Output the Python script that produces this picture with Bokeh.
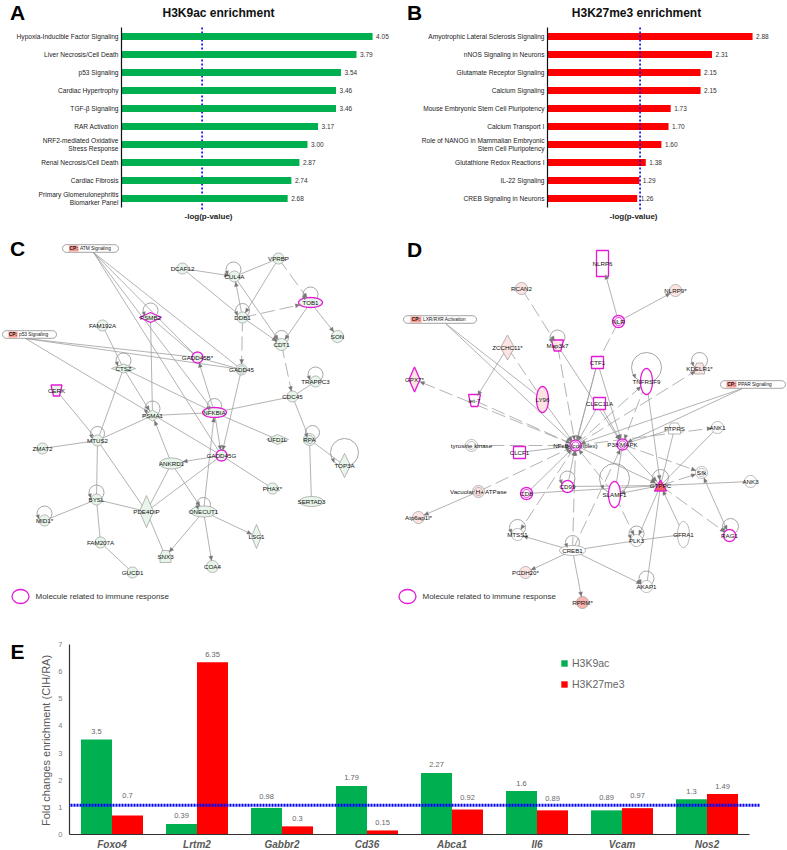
import math
from bokeh.plotting import figure
from bokeh.layouts import column, row
from bokeh.models import Range1d, FixedTicker, Legend, LegendItem, LinearAxis
from bokeh.core.properties import value
from bokeh.embed import file_html
from bokeh.resources import INLINE

FONT = "Liberation Sans"
GREEN = "#00b050"
RED = "#ff0000"
BLUE = "#0000ff"
MAG = "#e31bd6"

# Panel A
a_terms = ["Hypoxia-Inducible Factor Signaling", "Liver Necrosis/Cell Death", "p53 Signaling",
           "Cardiac Hypertrophy", "TGF-β Signaling", "RAR Activation",
           "NRF2-mediated Oxidative\nStress Response", "Renal Necrosis/Cell Death",
           "Cardiac Fibrosis", "Primary Glomerulonephritis\nBiomarker Panel"]
a_values = [4.05, 3.79, 3.54, 3.46, 3.46, 3.17, 3.00, 2.87, 2.74, 2.68]
a_threshold = 1.3
# Panel B
b_terms = ["Amyotrophic Lateral Sclerosis Signaling", "nNOS Signaling in Neurons",
           "Glutamate Receptor Signaling", "Calcium Signaling",
           "Mouse Embryonic Stem Cell Pluripotency", "Calcium Transport I",
           "Role of NANOG in Mammalian Embryonic\nStem Cell Pluripotency",
           "Glutathione Redox Reactions I", "IL-22 Signaling", "CREB Signaling in Neurons"]
b_values = [2.88, 2.31, 2.15, 2.15, 1.73, 1.70, 1.60, 1.38, 1.29, 1.26]
b_threshold = 1.3
# Panel E
e_genes = ["Foxo4", "Lrtm2", "Gabbr2", "Cd36", "Abca1", "Il6", "Vcam", "Nos2"]
e_h3k9ac = [3.5, 0.39, 0.98, 1.79, 2.27, 1.6, 0.89, 1.3]
e_h3k27me3 = [0.7, 6.35, 0.3, 0.15, 0.92, 0.89, 0.97, 1.49]
e_threshold = 1.08
e_gap_green = [8, 8, 11, 8, 8, 8, 13, 8]
e_gap_red = [20, 8, 8, 8, 12, 12, 13, 8]

# Networks: name, x, y, w, h, shape, fill kind
# shape: c circle/ellipse, d diamond, s square, t triangle, v inverted trapezoid, p pentagon
# style: n plain, i immune, 2 double ring, I double immune
c_nodes = [
    ("DCAF12", 182, 268, 11, 11, "c", "n"), ("PSMB2", 150, 317, 22, 10, "d", "i"),
    ("FAM192A", 102, 325, 11, 11, "c", "n"), ("CTSZ", 123, 368, 24, 9, "d", "n"),
    ("CERK", 56, 390, 11, 11, "v", "i"), ("PSMA1", 152, 415, 18, 11, "d", "n"),
    ("CUL4A", 234, 276, 11, 11, "c", "n"), ("VPRBP", 278, 258, 11, 11, "c", "n"),
    ("TOB1", 310, 302, 24, 10, "c", "i"), ("DDB1", 242, 317, 11, 11, "c", "n"),
    ("SON", 337, 336, 12, 12, "c", "n"), ("CDT1", 281, 344, 12, 12, "c", "n"),
    ("GADD45B*", 197, 357, 11, 11, "c", "i"), ("GADD45", 241, 369, 11, 11, "c", "2"),
    ("TRAPPC3", 315, 381, 11, 11, "c", "n"), ("CDC45", 292, 396, 11, 11, "c", "n"),
    ("NFKBIA", 214, 412, 24, 10, "c", "i"), ("MTUS2", 97, 440, 11, 11, "c", "n"),
    ("ZMAT2", 42, 448, 11, 11, "c", "n"), ("BYSL", 96, 499, 11, 11, "c", "n"),
    ("MID1*", 44, 520, 11, 11, "c", "n"), ("FAM207A", 100, 542, 11, 11, "c", "n"),
    ("GUCD1", 132, 572, 11, 11, "c", "n"), ("PDE4DIP", 146, 511, 14, 32, "d", "n"),
    ("SNX3", 165, 556, 11, 12, "p", "n"), ("ANKRD1", 171, 463, 24, 11, "c", "n"),
    ("ONECUT1", 203, 511, 26, 11, "c", "n"), ("GADD45G", 221, 455, 11, 11, "c", "i"),
    ("UFD1L", 277, 439, 22, 10, "d", "n"), ("RPA", 309, 439, 12, 12, "c", "2"),
    ("TOP3A", 344, 465, 12, 24, "d", "n"), ("PHAX*", 272, 488, 11, 11, "c", "n"),
    ("SERTAD3", 311, 501, 24, 10, "c", "n"), ("LSG1", 256, 536, 10, 24, "d", "n"),
    ("COA4", 212, 566, 12, 12, "c", "n"),
]
c_loops = [("PSMB2", 150, 310, 7.5), ("CTSZ", 123, 360, 7.5), ("PSMA1", 152, 408, 7.5),
           ("CUL4A", 233, 269, 7.5), ("TOB1", 310, 294, 7.5), ("DDB1", 242, 310, 7),
           ("CDT1", 281, 337, 7), ("TRAPPC3", 315, 374, 7.5), ("NFKBIA", 214, 405, 7),
           ("MTUS2", 97, 433, 7), ("BYSL", 96, 492, 7.5), ("MID1*", 44, 513, 7.5),
           ("ONECUT1", 203, 504, 7), ("RPA", 312, 432, 7), ("TOP3A", 344, 452, 14)]
c_anchors = {"ATM": (93, 252), "p53": (25, 338)}
c_edges = [
    ("ATM", "GADD45", "s"), ("ATM", "GADD45B*", "s"), ("ATM", "GADD45G", "s"), ("ATM", "NFKBIA", "s"),
    ("p53", "GADD45", "s"), ("p53", "GADD45B*", "s"), ("p53", "GADD45G", "s"),
    ("FAM192A", "CTSZ", "s"), ("CTSZ", "PSMA1", "s>"), ("CTSZ", "NFKBIA", "s"), ("CTSZ", "MTUS2", "s"),
    ("PSMB2", "PSMA1", "s"), ("PSMB2", "GADD45B*", "s"), ("PSMA1", "MTUS2", "s"), ("PSMA1", "NFKBIA", "s"),
    ("GADD45", "GADD45B*", "s"), ("GADD45", "GADD45G", "s>"), ("CERK", "MTUS2", "s"),
    ("MTUS2", "ZMAT2", "s"), ("MTUS2", "BYSL", "s"), ("MTUS2", "PDE4DIP", "s"),
    ("BYSL", "MID1*", "s"), ("BYSL", "FAM207A", "s"), ("BYSL", "PDE4DIP", "s"), ("FAM207A", "GUCD1", "s"),
    ("PDE4DIP", "ANKRD1", "s"), ("PDE4DIP", "SNX3", "s"), ("PDE4DIP", "GADD45G", "s"),
    ("ONECUT1", "SNX3", "s>"), ("ONECUT1", "LSG1", "s>"), ("ONECUT1", "COA4", "s>"),
    ("ONECUT1", "NFKBIA", "s>"), ("ANKRD1", "PSMA1", "s>"), ("ANKRD1", "ONECUT1", "s>"),
    ("GADD45G", "ANKRD1", "s>"), ("NFKBIA", "GADD45B*", "s>"), ("NFKBIA", "UFD1L", "s"),
    ("NFKBIA", "CDC45", "s"), ("NFKBIA", "GADD45G", "s>"), ("PHAX*", "GADD45G", "s"),
    ("CDC45", "RPA", "s"), ("RPA", "SERTAD3", "s"), ("RPA", "TOP3A", "s"), ("TRAPPC3", "CDC45", "s"),
    ("CDT1", "CDC45", "d>"), ("DDB1", "CDT1", "s>"), ("DDB1", "TOB1", "d>"), ("DDB1", "GADD45", "d>"),
    ("DDB1", "CUL4A", "s>"), ("CUL4A", "CDT1", "s>"), ("CUL4A", "VPRBP", "s"), ("VPRBP", "DDB1", "s>"),
    ("VPRBP", "TOB1", "d>"), ("TOB1", "CDT1", "s>"), ("TOB1", "SON", "s>"),
    ("DCAF12", "CUL4A", "s>"), ("DCAF12", "DDB1", "s"),
]
d_nodes = [
    ("RCAN2", 521, 288, 12, 12, "c", "n", "p"), ("ZCCHC11*", 507, 347, 14, 25, "d", "n", "p"),
    ("Map3k7", 557, 345, 12, 11, "v", "i", "p"), ("GPX7*", 414, 379, 11, 25, "d", "i", "p"),
    ("let-7", 474, 400, 12, 12, "v", "i", "w"), ("LY96", 542, 399, 12, 26, "c", "i", "p"),
    ("NLRP6", 602, 263, 12, 26, "s", "i", "w"), ("NLRP9*", 675, 290, 12, 12, "c", "n", "p"),
    ("NLR", 618, 321, 12, 12, "c", "I", "w"), ("CTF1", 597, 362, 12, 12, "s", "i", "w"),
    ("CLEC11A", 599, 403, 12, 12, "s", "i", "w"), ("TNFRSF9", 646, 381, 12, 26, "c", "i", "w"),
    ("KDELR1*", 699, 368, 10, 11, "p", "n", "p"), ("tyrosine kinase", 471, 445, 12, 12, "c", "2", "w"),
    ("CLCF1", 519, 452, 12, 12, "s", "i", "w"), ("NFκB (complex)", 575, 445, 11, 11, "c", "I", "w"),
    ("Vacuolar H+ ATPase", 478, 491, 12, 12, "c", "2", "p"), ("CD8", 526, 493, 12, 12, "c", "I", "w"),
    ("CD99", 567, 486, 12, 12, "c", "i", "w"), ("Atp6ap1l*", 418, 517, 12, 12, "c", "n", "p"),
    ("MTSS1", 517, 534, 12, 12, "c", "n", "w"), ("CREB1", 572, 550, 26, 10, "c", "n", "w"),
    ("PCDH20*", 525, 572, 12, 12, "c", "n", "p"), ("RPRM*", 582, 602, 12, 12, "c", "n", "r"),
    ("P38 MAPK", 622, 444, 11, 11, "c", "I", "w"), ("PTPRS", 674, 428, 12, 11, "p", "n", "w"),
    ("ANK1", 717, 427, 12, 12, "c", "n", "w"), ("Sfk", 701, 472, 12, 12, "c", "2", "w"),
    ("ANK3", 750, 481, 12, 12, "c", "n", "w"), ("GTPRC", 660, 485, 12, 11, "t", "i", "R"),
    ("SLAMF1", 614, 494, 12, 26, "c", "i", "w"), ("PLK3", 636, 540, 12, 12, "c", "n", "w"),
    ("GFRA1", 683, 534, 12, 26, "c", "n", "w"), ("RAG1", 729, 535, 12, 12, "c", "i", "w"),
    ("AKAP1", 646, 586, 12, 12, "c", "n", "w"),
]
d_loops = [("Map3k7", 557, 337, 7.5), ("TNFRSF9", 646, 367, 15), ("KDELR1*", 699, 360, 8),
           ("CD99", 567, 478, 7.5), ("MTSS1", 517, 527, 8), ("CREB1", 572, 542, 7),
           ("GTPRC", 660, 477, 8), ("SLAMF1", 614, 478, 15), ("PLK3", 636, 533, 7.5),
           ("RAG1", 730, 526, 8), ("AKAP1", 646, 578, 7.5)]
d_anchors = {"LXR": (445, 323), "PPAR": (742, 388)}
HUB = "NFκB (complex)"
d_edges = [
    ("RCAN2", "Map3k7", "d>"), ("Map3k7", HUB, "d>"), ("Map3k7", "P38 MAPK", "s>"),
    ("ZCCHC11*", "let-7", "s>"), ("ZCCHC11*", "LY96", "d"), ("LXR", HUB, "s>"), ("LXR", "LY96", "s"),
    (HUB, "GPX7*", "d>"), ("let-7", HUB, "d>"), ("LY96", HUB, "s>"),
    ("NLR", "NLRP6", "s>"), ("NLR", "NLRP9*", "s>"), ("NLR", "CTF1", "d"),
    ("CTF1", HUB, "s>"), ("CTF1", "P38 MAPK", "s>"), ("CTF1", HUB, "s"),
    ("CLEC11A", HUB, "s>"), ("CLEC11A", "P38 MAPK", "s>"), (HUB, "TNFRSF9", "d>"),
    ("TNFRSF9", "P38 MAPK", "d>"), ("TNFRSF9", "GTPRC", "s>"), (HUB, "KDELR1*", "d>"),
    ("PPAR", HUB, "s>"), ("PPAR", "P38 MAPK", "s>"), ("tyrosine kinase", HUB, "d"),
    ("CLCF1", HUB, "s>"), ("Vacuolar H+ ATPase", HUB, "d>"), ("Vacuolar H+ ATPase", "Atp6ap1l*", "s>"),
    ("CD8", HUB, "s>"), ("CD8", "GTPRC", "s"), ("CD99", HUB, "s>"), ("CD99", "GTPRC", "s"),
    (HUB, "MTSS1", "d>"), ("CREB1", "MTSS1", "s>"), ("CREB1", "PCDH20*", "s>"), ("CREB1", "RPRM*", "s>"),
    ("CREB1", HUB, "d>"), ("CREB1", "P38 MAPK", "d>"), ("CREB1", "PLK3", "s"), ("CREB1", "AKAP1", "s>"),
    ("P38 MAPK", "GTPRC", "s>"), ("P38 MAPK", "PTPRS", "s"), ("P38 MAPK", "Sfk", "d>"), (HUB, "ANK1", "d>"),
    ("PTPRS", "GTPRC", "s"), ("ANK1", "GTPRC", "s"), ("GTPRC", "Sfk", "d>"), ("GTPRC", "ANK3", "s"),
    ("GTPRC", "RAG1", "d>"), ("GTPRC", "AKAP1", "s"), ("GFRA1", "GTPRC", "s>"), ("GFRA1", "PLK3", "s"),
    ("Sfk", "RAG1", "s<>"), ("SLAMF1", "PLK3", "d>"), ("GTPRC", "SLAMF1", "s>"), ("SLAMF1", HUB, "d>"),
    ("SLAMF1", "P38 MAPK", "s"), (HUB, "GTPRC", "s>"), ("GTPRC", "PLK3", "s>"),
]


def bare_fig(w, h, x_range, y_range):
    """A figure whose frame fills it; axes, if any, are pinned inside the frame."""
    p = figure(width=w, height=h, x_range=x_range, y_range=y_range,
               toolbar_location=None, output_backend="svg", min_border=0,
               x_axis_location=None, y_axis_location=None)
    p.grid.visible = False
    p.outline_line_color = None
    return p


def outline(x, y, w, h, shape):
    a, b = w / 2, h / 2
    if shape == "d":
        return [x, x + a, x, x - a], [y - b, y, y + b, y]
    if shape == "s":
        return [x - a, x + a, x + a, x - a], [y - b, y - b, y + b, y + b]
    if shape == "t":
        return [x, x + a, x - a], [y - b, y + b, y + b]
    if shape == "v":
        return [x - a, x + a, x + a * .55, x - a * .55], [y - b, y - b, y + b, y + b]
    if shape == "p":
        return [x - a * .6, x + a * .6, x + a, x + a, x - a, x - a], [y - b, y - b, y, y + b, y + b, y]
    n = 40
    return ([x + a * math.cos(2 * math.pi * i / n) for i in range(n)],
            [y + b * math.sin(2 * math.pi * i / n) for i in range(n)])


def pill(p, x0, x1, y, box0, box1, name):
    h = 3.8
    n = 8
    xs, ys = [], []
    for i in range(n + 1):
        t = -math.pi / 2 + math.pi * i / n
        xs.append(x1 - h + h * math.cos(t)); ys.append(y + h * math.sin(t))
    for i in range(n + 1):
        t = math.pi / 2 + math.pi * i / n
        xs.append(x0 + h + h * math.cos(t)); ys.append(y + h * math.sin(t))
    p.patch(xs, ys, fill_color="white", line_color="#8c8c8c", line_width=0.8)
    p.quad(left=[box0], right=[box1], top=[y - 3], bottom=[y + 3], fill_color="#f99a94", line_color=None)
    p.text([(box0 + box1) / 2], [y], text=["CP:"], text_font=value(FONT), text_font_size="4.8px",
           text_font_style="bold", text_align="center", text_baseline="middle", text_color="#111111")
    p.text([box1 + 1.5], [y], text=[name], text_font=value(FONT), text_font_size="4.8px",
           text_align="left", text_baseline="middle", text_color="#111111")


def network(p, nodes, loops, edges, anchors, fills):
    pos = {n[0]: n for n in nodes}
    for k, (ax, ay) in anchors.items():
        pos[k] = (k, ax, ay, 0.1, 0.1, "c", "n", "w")

    def endpoint(a, b):
        _, x0, y0 = a[:3]
        _, x1, y1, w, h = b[:5]
        dx, dy = x0 - x1, y0 - y1
        L = math.hypot(dx, dy) or 1
        ux, uy = dx / L, dy / L
        r = 1 / math.sqrt((ux / (w / 2)) ** 2 + (uy / (h / 2)) ** 2)
        return x1 + ux * r, y1 + uy * r, ux, uy

    sx0, sy0, sx1, sy1, dx0, dy0, dx1, dy1 = [], [], [], [], [], [], [], []
    hx, hy = [], []

    def head(x, y, ux, uy, L=4.5, W=2):
        hx.append([x, x + ux * L - uy * W, x + ux * L + uy * W])
        hy.append([y, y + uy * L + ux * W, y + uy * L - ux * W])

    for a, b, st in edges:
        A, B = pos[a], pos[b]
        if st[0] == "s":
            sx0.append(A[1]); sy0.append(A[2]); sx1.append(B[1]); sy1.append(B[2])
        else:
            dx0.append(A[1]); dy0.append(A[2]); dx1.append(B[1]); dy1.append(B[2])
        if ">" in st:
            head(*endpoint(A, B))
        if "<" in st:
            head(*endpoint(B, A))
    p.segment(sx0, sy0, sx1, sy1, line_color="#a0a0a0", line_width=0.8)
    p.segment(dx0, dy0, dx1, dy1, line_color="#a0a0a0", line_width=0.8, line_dash="14 5")
    p.ellipse([l[1] for l in loops], [l[2] for l in loops], width=[l[3] * 2 for l in loops],
              height=[l[3] * 2 for l in loops], fill_color=None, line_color="#8f8f8f", line_width=0.8)
    for name, lx, ly, r in loops:
        head(lx - r * .75, ly + r * .72, -0.3, -0.95, 4, 1.8)

    xs, ys, fc, lc, lw = [], [], [], [], []
    rx, ry, rlc, rlw = [], [], [], []
    for n in nodes:
        name, x, y, w, h, shape, style = n[:7]
        fill = fills[n[7]] if len(n) > 7 else fills["g"]
        ox, oy = outline(x, y, w, h, shape)
        xs.append(ox); ys.append(oy); fc.append(fill)
        lc.append(MAG if style in "iI" else "#999999")
        lw.append(1.3 if style in "iI" else 0.7)
        if style in "2I":
            ix, iy = outline(x, y, w * .66, h * .66, shape)
            rx.append(ix); ry.append(iy)
            rlc.append(MAG if style == "I" else "#999999")
            rlw.append(1.0 if style == "I" else 0.7)
    p.patches(xs, ys, fill_color=fc, line_color=lc, line_width=lw)
    p.patches(rx, ry, fill_color=None, line_color=rlc, line_width=rlw)
    p.patches(hx, hy, fill_color="#777777", line_color="#777777", line_width=0.3)
    p.text([n[1] for n in nodes], [n[2] for n in nodes], text=[n[0] for n in nodes],
           text_font=value(FONT), text_font_size="6.2px", text_align="center",
           text_baseline="middle", text_color="#111111")


def legend_note(p, x, y, tx):
    p.ellipse([x], [y], width=[17], height=[14], fill_color=None, line_color=MAG, line_width=1.3)
    p.text([tx], [y], text=["Molecule related to immune response"], text_font=value(FONT),
           text_font_size="8px", text_align="left", text_baseline="middle", text_color="#333333")


def letter(p, x, y, s):
    p.text([x], [y], text=[s], text_font=value(FONT), text_font_size="21px", text_font_style="bold",
           text_align="center", text_baseline="middle", text_color="black")


def bar_panel(terms, values, thr, color, title, w, left_px, k, title_px, xlabel_px, lett, lett_px,
              line_on_top, fig_x0):
    X = lambda px: (px - left_px) / k
    Y = lambda py: (py - 36) / 18
    p = bare_fig(w, 232, Range1d(X(fig_x0), X(fig_x0 + w)), Range1d(Y(232), Y(0)))
    ys = list(range(len(terms)))
    ax = LinearAxis(fixed_location=0)
    ax.ticker = FixedTicker(ticks=ys)
    ax.major_label_overrides = {i: t for i, t in enumerate(terms)}
    ax.major_tick_line_color = None
    ax.minor_tick_line_color = None
    ax.major_tick_out = 0
    ax.major_tick_in = 0
    ax.axis_line_color = "#111111"
    ax.axis_line_width = 1.2
    ax.bounds = (-0.5, 9.5)
    ax.major_label_text_font = FONT
    ax.major_label_text_font_size = "6.6px"
    ax.major_label_text_color = "#222222"
    ax.major_label_standoff = 3
    p.add_layout(ax, "left")
    line = lambda: p.line([thr, thr], [-0.5, 9.67], line_color=BLUE, line_width=1.6, line_dash="2 2")
    if not line_on_top:
        line()
    p.hbar(y=ys, right=values, left=0, height=7 / 18, fill_color=color, line_color=None)
    if line_on_top:
        line()
    p.text(values, ys, text=[f"{v:.2f}" for v in values], x_offset=3.5, text_font=value(FONT),
           text_font_size="6.5px", text_align="left", text_baseline="middle", text_color="#333333")
    p.text([X(title_px)], [Y(12)], text=[title], text_font=value(FONT), text_font_size="12px",
           text_font_style="bold", text_align="center", text_baseline="middle", text_color="#111111")
    p.text([X(xlabel_px)], [Y(216)], text=["-log(p-value)"], text_font=value(FONT), text_font_size="8px",
           text_font_style="bold", text_align="center", text_baseline="middle", text_color="#222222")
    p.text([X(lett_px)], [Y(12)], text=[lett], text_font=value(FONT), text_font_size="21px",
           text_font_style="bold", text_align="center", text_baseline="middle", text_color="black")
    return p


pa = bar_panel(a_terms, a_values, a_threshold, GREEN, "H3K9ac enrichment", 395, 121, 62.0, 218, 208, "A", 17, False, 0)
pb = bar_panel(b_terms, b_values, b_threshold, RED, "H3K27me3 enrichment", 392, 547, 71.2, 636, 633, "B", 414, True, 395)

# Panel C
pc = bare_fig(395, 393, Range1d(0, 395), Range1d(625, 232))
network(pc, c_nodes, c_loops, c_edges, c_anchors, {"g": "#e8f5ea"})
pill(pc, 62, 118, 248, 68.5, 78, "ATM Signaling")
pill(pc, 2, 56, 334, 8, 17, "p53 Signaling")
legend_note(pc, 20, 596, 35)
letter(pc, 17, 248, "C")

# Panel D
pd_ = bare_fig(392, 393, Range1d(395, 787), Range1d(625, 232))
network(pd_, d_nodes, d_loops, d_edges, d_anchors, {"w": "#ffffff", "p": "#fbe4e1", "r": "#f8b5ad", "R": "#f2635a"})
pill(pd_, 403, 476, 319, 410, 421, "LXR/RXR Activation")
pill(pd_, 720, 785, 384, 726, 736, "PPAR Signaling")
legend_note(pd_, 407, 596, 422)
letter(pd_, 414, 249, "D")

# Panel E
unit = 85.0
scale_e = (834 - 644) / 7
U = lambda px: (px - 69) / unit - 0.5
V = lambda py: (834 - py) / scale_e
pe = bare_fig(787, 225, Range1d(U(0), U(787)), Range1d(V(850), V(625)))
xs = list(range(len(e_genes)))
bw = 31 / unit
r1 = pe.vbar(x=[i - bw / 2 for i in xs], top=e_h3k9ac, width=bw, fill_color=GREEN, line_color=None)
r2 = pe.vbar(x=[i + bw / 2 for i in xs], top=e_h3k27me3, width=bw, fill_color=RED, line_color=None)
pe.line([U(70), U(760)], [e_threshold, e_threshold], line_color=BLUE, line_width=3, line_dash="2 1")
pe.text([i - bw / 2 for i in xs], e_h3k9ac, text=[str(v) for v in e_h3k9ac], y_offset=[-g for g in e_gap_green],
        text_font=value(FONT), text_font_size="7.5px", text_align="center", text_baseline="middle", text_color="#666666")
pe.text([i + bw / 2 for i in xs], e_h3k27me3, text=[str(v) for v in e_h3k27me3], y_offset=[-g for g in e_gap_red],
        text_font=value(FONT), text_font_size="7.5px", text_align="center", text_baseline="middle", text_color="#666666")
xa = LinearAxis(fixed_location=0)
xa.ticker = FixedTicker(ticks=xs)
xa.major_label_overrides = {i: g for i, g in enumerate(e_genes)}
xa.major_tick_line_color = None
xa.minor_tick_line_color = None
xa.major_tick_out = 0
xa.major_tick_in = 0
xa.axis_line_color = "#333333"
xa.axis_line_width = 1.2
xa.bounds = (-0.5, 7.5)
xa.major_label_standoff = 4
xa.major_label_text_font = FONT
xa.major_label_text_font_style = "bold italic"
xa.major_label_text_font_size = "10px"
xa.major_label_text_color = "#595959"
pe.add_layout(xa, "below")
ya = LinearAxis(fixed_location=-0.5)
ya.ticker = FixedTicker(ticks=list(range(8)))
ya.major_tick_line_color = None
ya.minor_tick_line_color = None
ya.major_tick_out = 0
ya.major_tick_in = 0
ya.axis_line_color = "#333333"
ya.axis_line_width = 1.2
ya.bounds = (0, 7)
ya.major_label_standoff = 7
ya.major_label_text_font = FONT
ya.major_label_text_font_size = "7.5px"
ya.major_label_text_color = "#7f7f7f"
pe.add_layout(ya, "left")
pe.text([U(45)], [V(740)], text=["Fold changes enrichment (CIH/RA)"], angle=math.pi / 2, text_font=value(FONT),
        text_font_size="11px", text_align="center", text_baseline="middle", text_color="#595959")
pe.text([U(17)], [V(651)], text=["E"], text_font=value(FONT), text_font_size="21px", text_font_style="bold",
        text_align="center", text_baseline="middle", text_color="black")
leg = Legend(items=[LegendItem(label="H3K9ac", renderers=[r1]), LegendItem(label="H3K27me3", renderers=[r2])],
             location=(560, 160), orientation="vertical", glyph_width=8, glyph_height=8, spacing=9,
             label_text_font=FONT, label_text_font_size="10.5px", label_text_color="#666666",
             background_fill_alpha=0, border_line_color=None, padding=0, margin=0, label_standoff=4, label_height=8)
pe.add_layout(leg)

page = column(row(pa, pb, spacing=0), row(pc, pd_, spacing=0), pe, spacing=0)
open("out.html", "w").write(file_html(page, INLINE))
